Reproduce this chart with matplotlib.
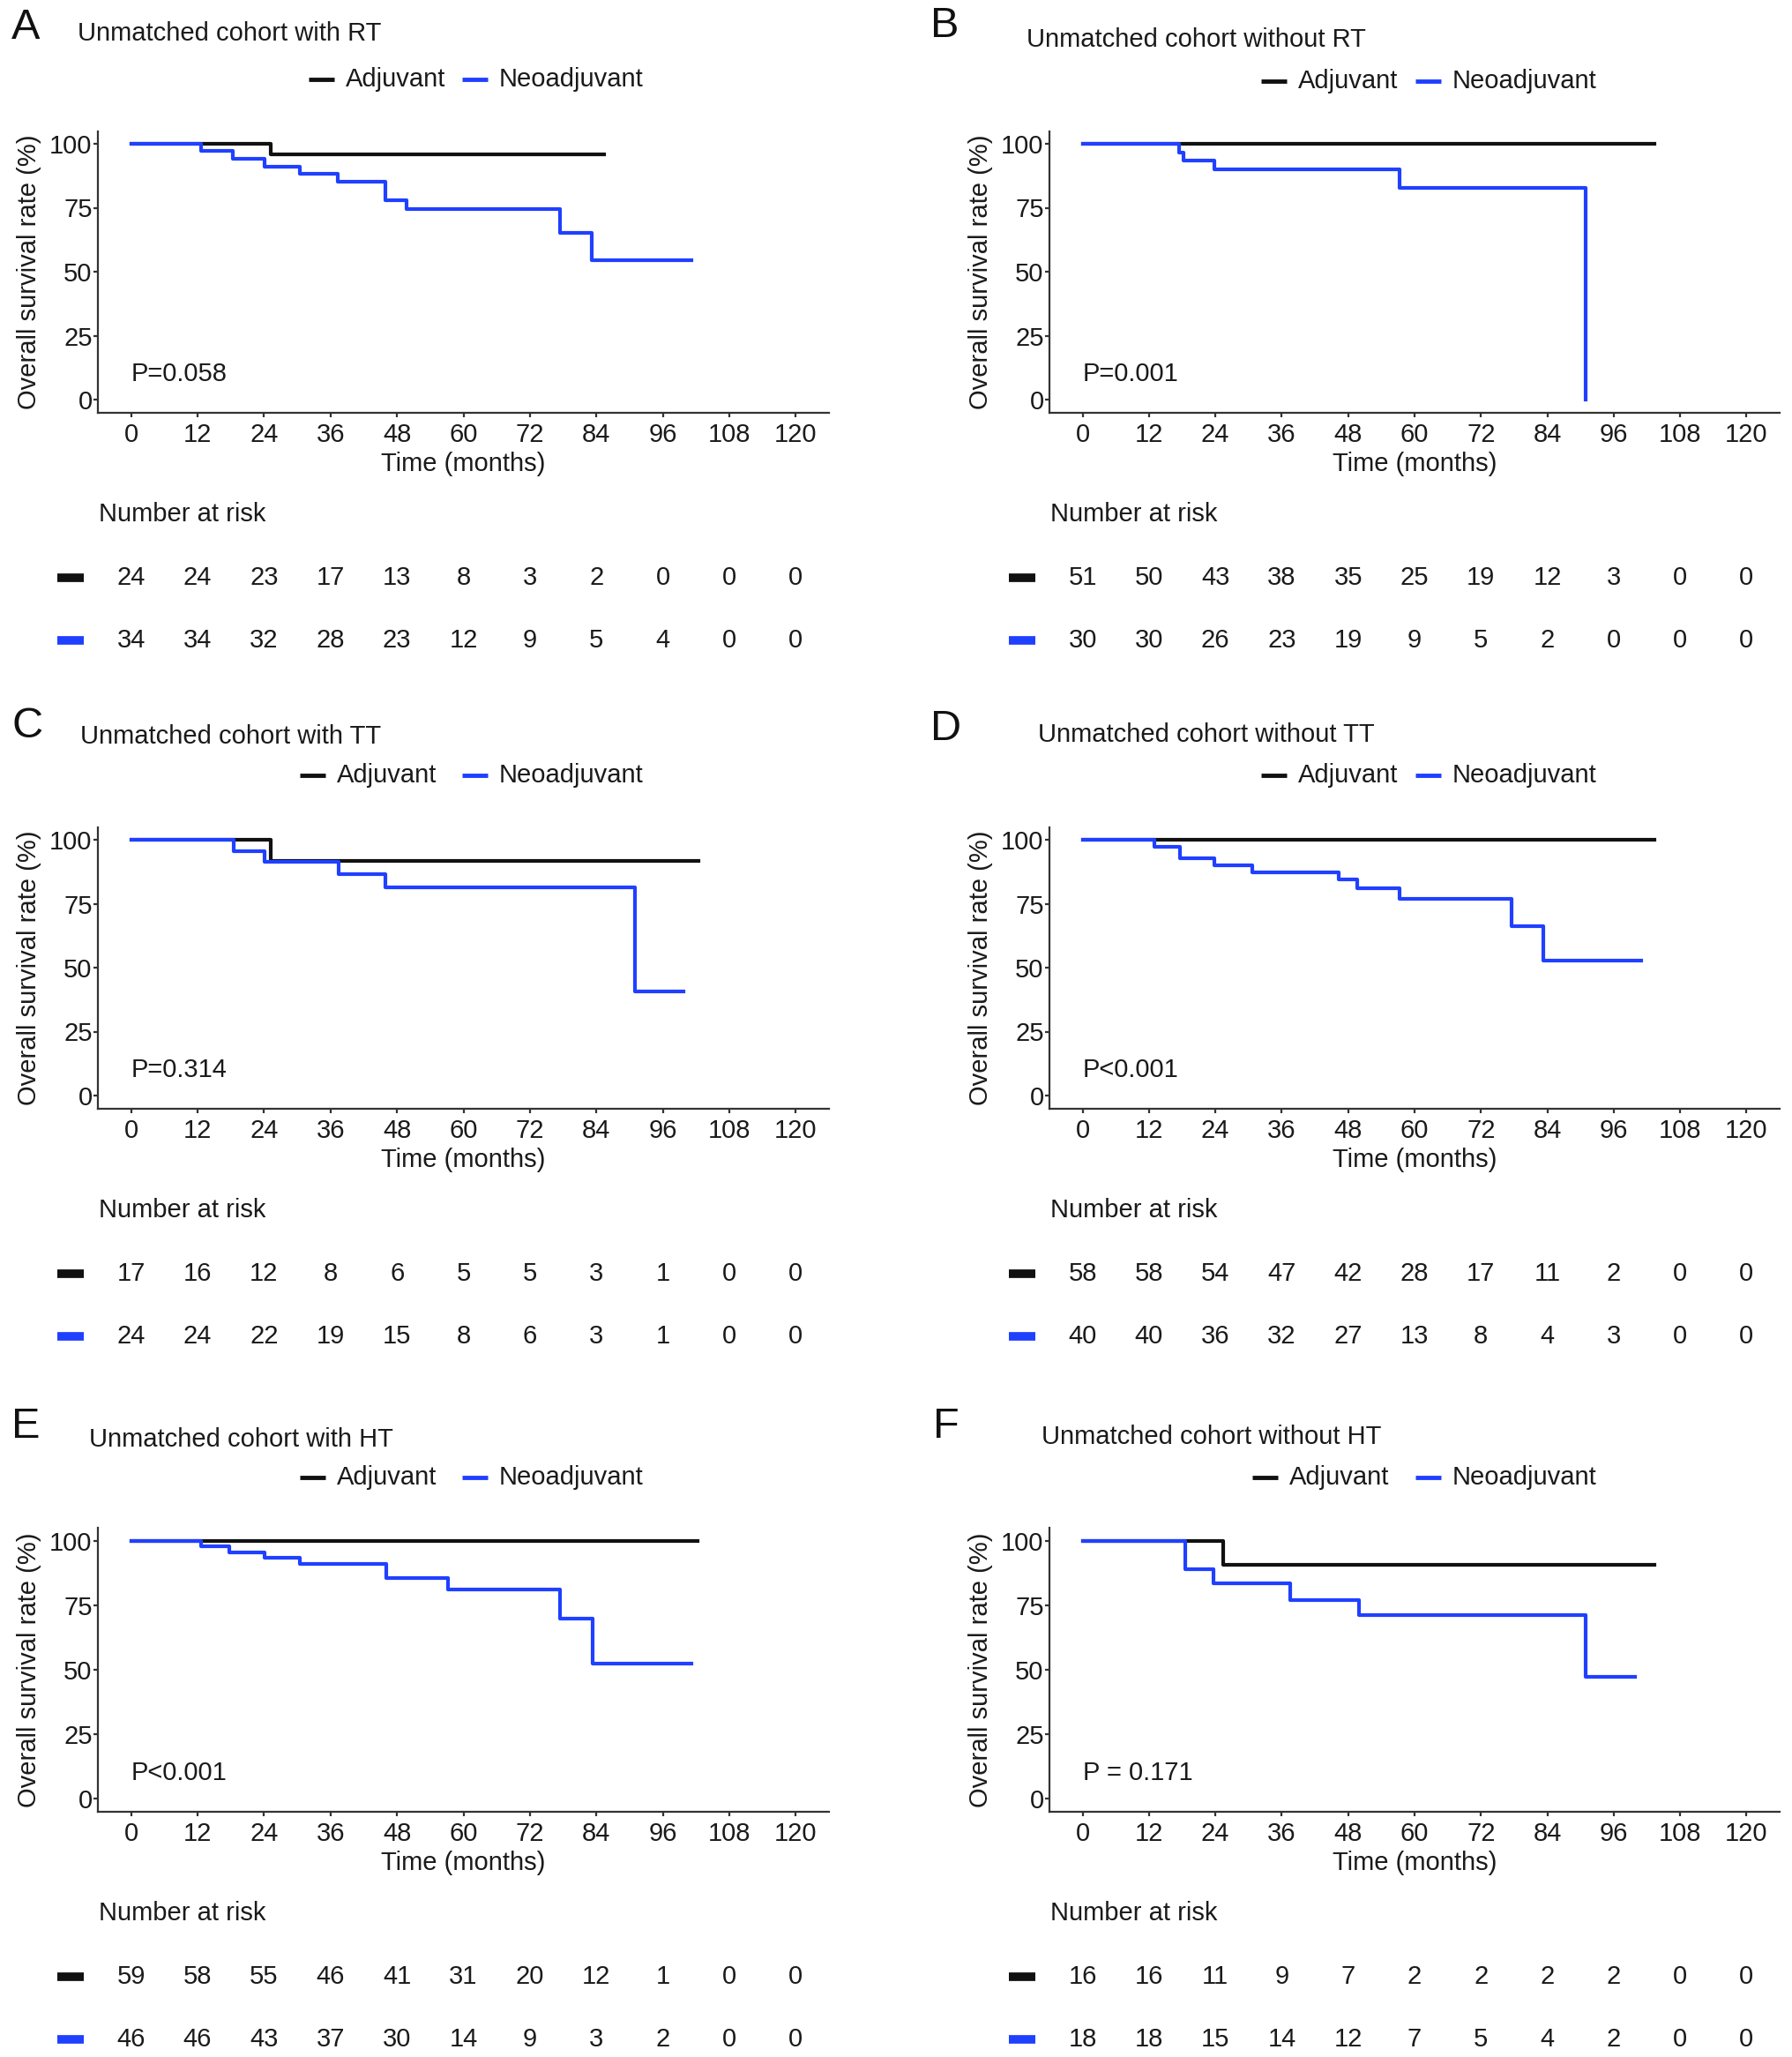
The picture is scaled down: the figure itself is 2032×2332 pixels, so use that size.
import matplotlib
matplotlib.use("Agg")
import matplotlib.pyplot as plt
from matplotlib.lines import Line2D
from matplotlib.transforms import blended_transform_factory

plt.rcParams["font.family"] = ["Liberation Sans", "DejaVu Sans"]

W, H = 2032, 2332
TXT = "#1a1a1a"
BLACK = "#111111"
BLUE = "#2040ff"
FS = 21

TICKS = [0, 12, 24, 36, 48, 60, 72, 84, 96, 108, 120]
YTICKS = [0, 25, 50, 75, 100]
LEGEND = ["Adjuvant", "Neoadjuvant"]

# --- data (time in months, survival in %) ---
letters = ["A", "B", "C", "D", "E", "F"]
titles = [
    "Unmatched cohort with RT", "Unmatched cohort without RT",
    "Unmatched cohort with TT", "Unmatched cohort without TT",
    "Unmatched cohort with HT", "Unmatched cohort without HT",
]
pvals = ["P=0.058", "P=0.001", "P=0.314", "P<0.001", "P<0.001", "P = 0.171"]

adj_t = [
    [0, 25.2, 85.4],
    [0, 103.3],
    [0, 25.2, 102.4],
    [0, 103.3],
    [0, 102.2],
    [0, 25.4, 103.3],
]
adj_s = [
    [100, 95.8, 95.8],
    [100, 100],
    [100, 91.7, 91.7],
    [100, 100],
    [100, 100],
    [100, 90.8, 90.8],
]
neo_t = [
    [0, 12.7, 18.4, 24.1, 30.4, 37.3, 45.9, 49.7, 77.4, 83.1, 101.2],
    [0, 17.5, 18.3, 23.8, 57.3, 91.0],
    [0, 18.5, 24.1, 37.5, 45.9, 90.9, 99.8],
    [0, 13.0, 17.6, 23.8, 30.6, 46.3, 49.7, 57.3, 77.6, 83.3, 101.0],
    [0, 12.7, 17.7, 24.1, 30.4, 46.1, 57.2, 77.4, 83.3, 101.2],
    [0, 18.5, 23.7, 37.6, 50.0, 91.0, 99.8],
]
neo_s = [
    [100, 97.1, 94.1, 91.2, 88.2, 85.1, 77.8, 74.5, 65.2, 54.4, 54.4],
    [100, 96.7, 93.3, 90.0, 82.8, 0],
    [100, 95.4, 91.4, 86.6, 81.3, 40.6, 40.6],
    [100, 97.4, 92.8, 89.9, 87.1, 84.4, 81.0, 76.9, 66.2, 52.9, 52.9],
    [100, 97.9, 95.5, 93.6, 91.0, 85.5, 81.3, 70.0, 52.3, 52.3],
    [100, 88.9, 83.4, 77.1, 71.2, 47.2, 47.2],
]

risk_adj = [
    [24, 24, 23, 17, 13, 8, 3, 2, 0, 0, 0],
    [51, 50, 43, 38, 35, 25, 19, 12, 3, 0, 0],
    [17, 16, 12, 8, 6, 5, 5, 3, 1, 0, 0],
    [58, 58, 54, 47, 42, 28, 17, 11, 2, 0, 0],
    [59, 58, 55, 46, 41, 31, 20, 12, 1, 0, 0],
    [16, 16, 11, 9, 7, 2, 2, 2, 2, 0, 0],
]
risk_neo = [
    [34, 34, 32, 28, 23, 12, 9, 5, 4, 0, 0],
    [30, 30, 26, 23, 19, 9, 5, 2, 0, 0, 0],
    [24, 24, 22, 19, 15, 8, 6, 3, 1, 0, 0],
    [40, 40, 36, 32, 27, 13, 8, 4, 3, 0, 0],
    [46, 46, 43, 37, 30, 14, 9, 3, 2, 0, 0],
    [18, 18, 15, 14, 12, 7, 5, 4, 2, 0, 0],
]

# --- layout in pixels ---
col_left = [111, 1190]
col_right = [940, 2018]
row_y100 = [163, 952, 1747]
row_y0 = [453, 1242, 2039]
letter_xy = [(13, 32), (1055, 30), (13, 823), (1055, 827), (13, 1618), (1058, 1618)]
title_xy = [(88, 38), (1164, 45), (91, 835), (1177, 833), (101, 1632), (1181, 1629)]
legend_x = [(350, 524), (1430, 1605), (340, 524), (1430, 1605), (340, 524), (1420, 1605)]
legend_y = [90, 92, 879, 879, 1675, 1675]


def fx(px):
    return px / W


def fy(py):
    return 1 - py / H


fig = plt.figure(figsize=(W / 100, H / 100), dpi=100)

for i in range(6):
    c, r = i % 2, i // 2
    L, R = col_left[c], col_right[c]
    y100, y0 = row_y100[r], row_y0[r]
    T = y100 - 0.05 * (y0 - y100)
    B = y0 + 0.05 * (y0 - y100)

    ax = fig.add_axes([fx(L), fy(B), (R - L) / W, (B - T) / H])
    ax.step(adj_t[i], adj_s[i], where="post", color=BLACK, lw=3.0)
    ax.step(neo_t[i], neo_s[i], where="post", color=BLUE, lw=3.0)
    ax.set_xlim(-6, 126)
    ax.set_ylim(-5, 105)
    ax.set_xticks(TICKS)
    ax.set_yticks(YTICKS)
    for side in ("top", "right"):
        ax.spines[side].set_visible(False)
    for side in ("left", "bottom"):
        ax.spines[side].set_linewidth(1.6)
        ax.spines[side].set_color("#333333")
    ax.tick_params(axis="both", length=3.6, width=1.6, color="#333333",
                   labelsize=FS, labelcolor=TXT)
    ax.tick_params(axis="x", pad=4.5)
    ax.tick_params(axis="y", pad=1)
    ax.text(0, 10, pvals[i], fontsize=FS, color=TXT, ha="left", va="center")

    # axis labels
    fig.text(fx((L + R) / 2), fy(y0 + 73), "Time (months)", fontsize=FS,
             color=TXT, ha="center", va="center")
    fig.text(fx(L - 78), fy((T + B) / 2), "Overall survival rate (%)",
             fontsize=FS, color=TXT, ha="center", va="center", rotation=90)

    # panel letter, title, legend
    lx, ly = letter_xy[i]
    fig.text(fx(lx), fy(ly), letters[i], fontsize=35, color="#111111",
             ha="left", va="center")
    tx, ty = title_xy[i]
    fig.text(fx(tx), fy(ty), titles[i], fontsize=FS, color=TXT,
             ha="left", va="center")
    for k, (name, col) in enumerate(zip(LEGEND, [BLACK, BLUE])):
        sx = legend_x[i][k]
        yy = legend_y[i]
        fig.add_artist(Line2D([fx(sx), fx(sx + 29)], [fy(yy), fy(yy)],
                              transform=fig.transFigure, color=col, lw=3.5,
                              solid_capstyle="butt"))
        fig.text(fx(sx + 42), fy(yy), name, fontsize=FS, color=TXT,
                 ha="left", va="center")

    # number at risk table
    tr = blended_transform_factory(ax.transData, fig.transFigure)
    fig.text(fx(L + 1), fy(y0 + 130), "Number at risk", fontsize=FS,
             color=TXT, ha="left", va="center")
    x0 = L + 6 * (R - L) / 132
    for row_vals, col, dy in [(risk_adj[i], BLACK, 202), (risk_neo[i], BLUE, 273)]:
        fig.add_artist(Line2D([fx(x0 - 84), fx(x0 - 54)], [fy(y0 + dy)] * 2,
                              transform=fig.transFigure, color=col, lw=7,
                              solid_capstyle="butt"))
        for t, n in zip(TICKS, row_vals):
            ax.text(t, fy(y0 + dy), str(n), transform=tr, fontsize=FS,
                    color=TXT, ha="center", va="center", clip_on=False)

fig.savefig("out.png", dpi=100)
